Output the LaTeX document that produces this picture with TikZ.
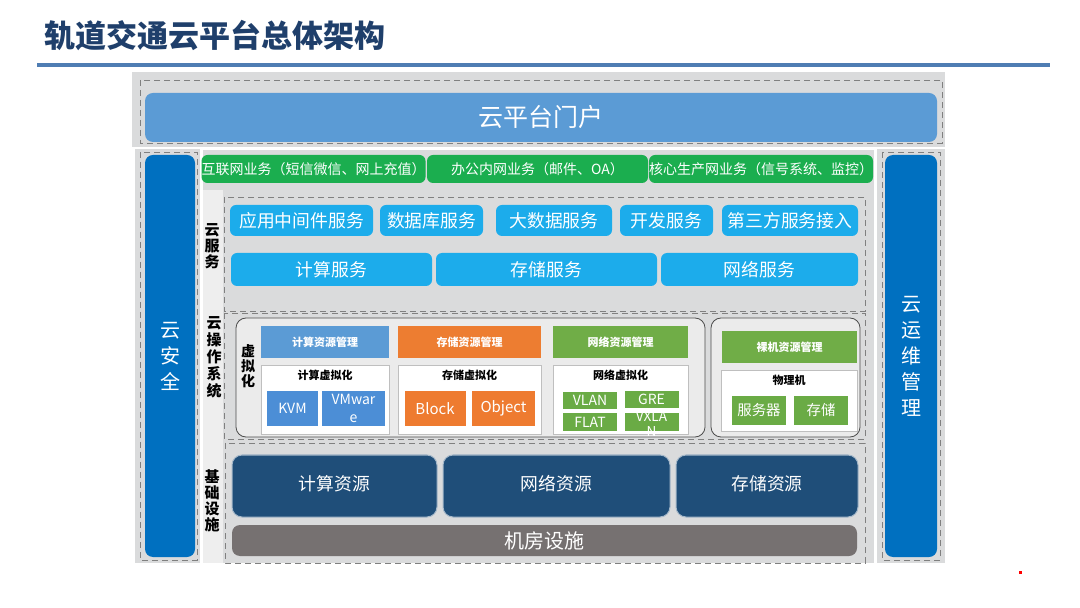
\documentclass[tikz,border=0pt]{standalone}
\usepackage{fontspec}
\setmainfont{Noto Sans CJK SC}
\usetikzlibrary{positioning}
\definecolor{titleblue}{HTML}{1F3F6B}
\definecolor{ruleblue}{HTML}{4F7DB3}
\definecolor{panelgray}{HTML}{DADBDC}
\definecolor{labelgray}{HTML}{EEEEEE}
\definecolor{osgray}{HTML}{EBEBEB}
\definecolor{portalblue}{HTML}{5B9BD5}
\definecolor{sideblue}{HTML}{0070C0}
\definecolor{bizgreen}{HTML}{1BAE4F}
\definecolor{svcblue}{HTML}{1CACEB}
\definecolor{navy}{HTML}{1F4E79}
\definecolor{roomgray}{HTML}{767171}
\definecolor{mgrblue}{HTML}{5B9BD5}
\definecolor{mgrorange}{HTML}{ED7D31}
\definecolor{mgrgreen}{HTML}{70AD47}
\definecolor{leafblue}{HTML}{4C8ED6}
\definecolor{leaforange}{HTML}{EE7B30}
\definecolor{leafgreen}{HTML}{6AAB45}

\begin{document}
\begin{tikzpicture}[x=0.5pt, y=-0.5pt,
		box_style/.style={inner sep=0pt, outer sep=0pt, align=center, text=white},
		frame_style/.style={densely dashed, draw=black!50, line width=0.3pt},
		biz_style/.style={box_style, fill=bizgreen, rounded corners=3pt, minimum height=14pt, font=\fontsize{7}{8}\selectfont},
		svc_style/.style={box_style, fill=svcblue, rounded corners=3pt, font=\fontsize{8.9}{10}\selectfont},
		side_style/.style={box_style, fill=sideblue, rounded corners=4pt, font=\fontsize{10}{13}\selectfont},
		label_style/.style={inner sep=0pt, align=center, font=\bfseries\fontsize{7.5}{8}\selectfont},
		head_style/.style={box_style, minimum height=16pt, font=\bfseries\fontsize{5.5}{6}\selectfont},
		virt_style/.style={inner sep=0pt, outer sep=0pt, fill=white, draw=black!25, line width=0.3pt},
		title_style/.style={inner sep=0pt, font=\bfseries\fontsize{5.5}{6}\selectfont},
		leaf_style/.style={box_style, font=\fontsize{7}{8.5}\selectfont},
		res_style/.style={box_style, fill=navy, draw=navy!40!white, line width=0.5pt, rounded corners=5pt, font=\fontsize{8.9}{10}\selectfont},
		os_style/.style={inner sep=0pt, outer sep=0pt, draw=black!70, fill=osgray, rounded corners=5pt, line width=0.4pt}]
	
	\fill[white] (0,0) rectangle (1080,608);
	\useasboundingbox (0,0) rectangle (1080,608);
	
	% panels
	\fill[panelgray] (132,72) rectangle (945,147);
	\fill[panelgray] (135,149) rectangle (200,563);
	\fill[panelgray] (877,149) rectangle (945,563);
	\fill[panelgray] (203,150) rectangle (874,563);
	\fill[labelgray] (203,190) rectangle (223,563);
	
	\draw[frame_style] (140,80) rectangle (942,143);
	\draw[frame_style] (140,152) rectangle (197,560);
	\draw[frame_style] (882,152) rectangle (940,560);
	\draw[frame_style] (224,197) rectangle (865,311);
	\draw[frame_style] (224,313) rectangle (865,439);
	\draw[frame_style] (225,443) rectangle (865,563);
	
	% title
	\node[anchor=west, inner sep=0pt, text=titleblue, font=\bfseries\fontsize{15.5}{18}\selectfont] (title) at (44,36) {轨道交通云平台总体架构};
	\draw[ruleblue, line width=1.6pt] (37,65) -- (1050,65);
	
	\node[box_style, fill=portalblue, rounded corners=4pt, minimum width=396pt, minimum height=24.5pt, font=\fontsize{12.5}{14}\selectfont] (portal) at (541,117.5) {云平台门户};
	
	\node[side_style, minimum width=25pt, minimum height=201pt] (sec) at (170,356) {云\\安\\全};
	\node[side_style, minimum width=26pt, minimum height=201pt] (ops) at (911,356) {云\\运\\维\\管\\理};
	
	% business row
	\foreach \cx/\w/\nm/\txt in {313.5/223/biz1/互联网业务（短信微信、网上充值）,537.5/221/biz2/办公内网业务（邮件、OA）,761/218/biz3/核心生产网业务（信号系统、监控）}{
		\node[biz_style, minimum width=\w*0.5pt] (\nm) at (\cx,169) {\txt};}
	
	% cloud services
	\foreach \cx/\w/\nm/\txt in {301.5/143/mid/应用中间件服务,431.5/103/db/数据库服务,554/116/bigdata/大数据服务,666.5/93/dev/开发服务,790/136/third/第三方服务接入}{
		\node[svc_style, minimum width=\w*0.5pt, minimum height=15.5pt] (\nm) at (\cx,220.5) {\txt};}
	\foreach \cx/\w/\nm/\txt in {331.5/201/csvc/计算服务,546.5/221/ssvc/存储服务,759.5/197/nsvc/网络服务}{
		\node[svc_style, minimum width=\w*0.5pt, minimum height=16.5pt] (\nm) at (\cx,269.5) {\txt};}
	
	\node[label_style] (svclabel) at (212,246) {云\\服\\务};
	\node[label_style, font=\bfseries\fontsize{7.5}{8.5}\selectfont] (oslabel) at (214,357) {云\\操\\作\\系\\统};
	\node[label_style] (infralabel) at (212,501) {基\\础\\设\\施};
	
	% cloud os
	\node[os_style, minimum width=234.5pt, minimum height=59.5pt] (virt) at (470.5,377.5) {};
	\node[os_style, minimum width=74.5pt, minimum height=59.5pt] (bare) at (785.5,377.5) {};
	\node[label_style, font=\bfseries\fontsize{7}{7.5}\selectfont] (virtlabel) at (248,366) {虚\\拟\\化};
	
	\foreach \cx/\w/\col/\nm/\txt in {325/128/mgrblue/cmgr/计算资源管理,469.5/143/mgrorange/smgr/存储资源管理,620.5/135/mgrgreen/nmgr/网络资源管理}{
		\node[head_style, fill=\col, minimum width=\w*0.5pt] (\nm) at (\cx,342) {\txt};}
	\foreach \cx/\w/\nm/\txt in {325/128/cvirt/计算虚拟化,469.5/143/svirt/存储虚拟化,620.5/135/nvirt/网络虚拟化}{
		\node[virt_style, minimum width=\w*0.5pt, minimum height=34.5pt] (\nm) at (\cx,399.5) {};
		\node[title_style, below=2.5pt of \nm.north] (\nm-t) {\txt};}
	
	\node[leaf_style, fill=leafblue, minimum width=25.5pt, minimum height=17.5pt] (kvm) at (292.5,408.5) {KVM};
	\node[leaf_style, fill=leafblue, minimum width=31.5pt, minimum height=17.5pt, font=\fontsize{7}{9}\selectfont] (vmware) at (353.5,408.5) {VMwar\\e};
	\node[leaf_style, fill=leaforange, minimum width=30.5pt, minimum height=17.5pt, font=\fontsize{7.5}{9}\selectfont] (block) at (435,408.5) {Block};
	\node[leaf_style, fill=leaforange, minimum width=31.5pt, minimum height=17.5pt, font=\fontsize{7.5}{9}\selectfont] (object) at (503.5,408.5) {Object};
	\foreach \cx/\cy/\nm/\txt in {590/400.5/vlan/VLAN,651.5/399.5/gre/GRE,590/422/flat/FLAT}{
		\node[leaf_style, fill=leafgreen, minimum width=27pt, minimum height=8.75pt] (\nm) at (\cx,\cy) {\txt};}
	\node[leaf_style, fill=leafgreen, minimum width=27pt, minimum height=8.75pt] (vxlanbox) at (651.5,422) {};
	\node[leaf_style, font=\fontsize{6.8}{7.4}\selectfont] (vxlan) at (651.5,424) {VXLA\\N};
	
	\node[head_style, fill=mgrgreen, minimum width=67.5pt] (baremgr) at (789.5,347) {裸机资源管理};
	\node[virt_style, minimum width=68pt, minimum height=30.5pt] (phys) at (789,400.5) {};
	\node[title_style, below=2.5pt of phys.north] (phys-t) {物理机};
	\node[leaf_style, fill=leafgreen, minimum width=27pt, minimum height=14.5pt, font=\fontsize{7.2}{8}\selectfont] (server) at (759,410.5) {服务器};
	\node[leaf_style, fill=leafgreen, minimum width=27pt, minimum height=14.5pt, font=\fontsize{7.2}{8}\selectfont] (store) at (821,410.5) {存储};
	
	% infrastructure
	\foreach \cx/\w/\nm/\txt in {334.5/205/cres/计算资源,556.5/227/nres/网络资源,767/182/sres/存储资源}{
		\node[res_style, minimum width=\w*0.5pt, minimum height=31pt] (\nm) at (\cx,486) {\raisebox{3pt}{\txt}};}
	\node[box_style, fill=roomgray, rounded corners=4pt, minimum width=312.5pt, minimum height=15.5pt, font=\fontsize{10}{11}\selectfont] (room) at (544.5,540.5) {机房设施};
	
	\fill[red] (1019,571) rectangle (1022,574);
\end{tikzpicture}
\end{document}
